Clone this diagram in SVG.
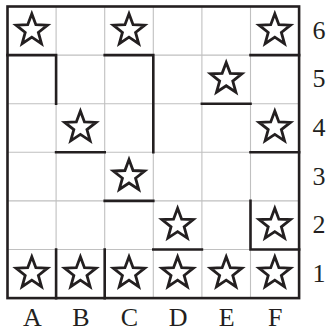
<svg xmlns="http://www.w3.org/2000/svg" xmlns:xlink="http://www.w3.org/1999/xlink" width="327" height="331" viewBox="0 0 327 331">
<style>
.thin{stroke:#c0c0c0;stroke-width:1.1;fill:none}
.thick{stroke:#231f20;stroke-width:2.6;fill:none;stroke-linecap:square}
.star{fill:#fff;stroke:#231f20;stroke-width:2.8;stroke-linejoin:miter;stroke-miterlimit:10}
.lbl{font-family:"Liberation Serif","Times New Roman",serif;font-size:26px;fill:#231f20;text-anchor:middle}
</style>
<defs>
<path id="star" class="star" d="M0,-16.5 L4.06,-5.58 L15.69,-5.1 L6.56,2.13 L9.7,13.35 L0,6.9 L-9.7,13.35 L-6.56,2.13 L-15.69,-5.1 L-4.06,-5.58 Z"/>
</defs>
<rect width="327" height="331" fill="#fff"/>
<g id="grid" class="thin">
<path d="M56.1,6.5V298.1M104.7,6.5V298.1M153.3,6.5V298.1M201.9,6.5V298.1M250.5,6.5V298.1"/>
<path d="M7.5,55.1H299.1M7.5,103.7H299.1M7.5,152.3H299.1M7.5,200.9H299.1M7.5,249.5H299.1"/>
</g>
<g id="regions" class="thick">
<path d="M7.5,55.1H56.1V103.7"/>
<path d="M104.7,55.1H153.3V152.3"/>
<path d="M250.5,55.1H299.1"/>
<path d="M201.9,103.7H250.5"/>
<path d="M56.1,152.3H104.7"/>
<path d="M250.5,152.3H299.1"/>
<path d="M104.7,200.9H153.3"/>
<path d="M153.3,249.5H201.9"/>
<path d="M250.5,200.9V249.5H299.1"/>
<path d="M56.1,249.5V298.1M104.7,249.5V298.1"/>
<rect x="7.5" y="6.5" width="291.6" height="291.6"/>
</g>
<g id="stars">
<g id="star-A6"><use xlink:href="#star" href="#star" x="31.8" y="30.3"/></g>
<g id="star-C6"><use xlink:href="#star" href="#star" x="129" y="30.3"/></g>
<g id="star-F6"><use xlink:href="#star" href="#star" x="274.8" y="30.3"/></g>
<g id="star-E5"><use xlink:href="#star" href="#star" x="226.2" y="78.9"/></g>
<g id="star-B4"><use xlink:href="#star" href="#star" x="80.4" y="127.5"/></g>
<g id="star-F4"><use xlink:href="#star" href="#star" x="274.8" y="127.5"/></g>
<g id="star-C3"><use xlink:href="#star" href="#star" x="129" y="176.1"/></g>
<g id="star-D2"><use xlink:href="#star" href="#star" x="177.6" y="224.7"/></g>
<g id="star-F2"><use xlink:href="#star" href="#star" x="274.8" y="224.7"/></g>
<g id="star-A1"><use xlink:href="#star" href="#star" x="31.8" y="273.3"/></g>
<g id="star-B1"><use xlink:href="#star" href="#star" x="80.4" y="273.3"/></g>
<g id="star-C1"><use xlink:href="#star" href="#star" x="129" y="273.3"/></g>
<g id="star-D1"><use xlink:href="#star" href="#star" x="177.6" y="273.3"/></g>
<g id="star-E1"><use xlink:href="#star" href="#star" x="226.2" y="273.3"/></g>
<g id="star-F1"><use xlink:href="#star" href="#star" x="274.8" y="273.3"/></g>
</g>
<g id="col-labels" class="lbl">
<text x="32.3" y="326">A</text>
<text x="80.9" y="326">B</text>
<text x="129.5" y="326">C</text>
<text x="178.1" y="326">D</text>
<text x="226.7" y="326">E</text>
<text x="275.3" y="326">F</text>
</g>
<g id="row-labels" class="lbl">
<text x="319" y="38.8">6</text>
<text x="319" y="87.4">5</text>
<text x="319" y="136">4</text>
<text x="319" y="184.6">3</text>
<text x="319" y="233.2">2</text>
<text x="319" y="281.8">1</text>
</g>
</svg>
